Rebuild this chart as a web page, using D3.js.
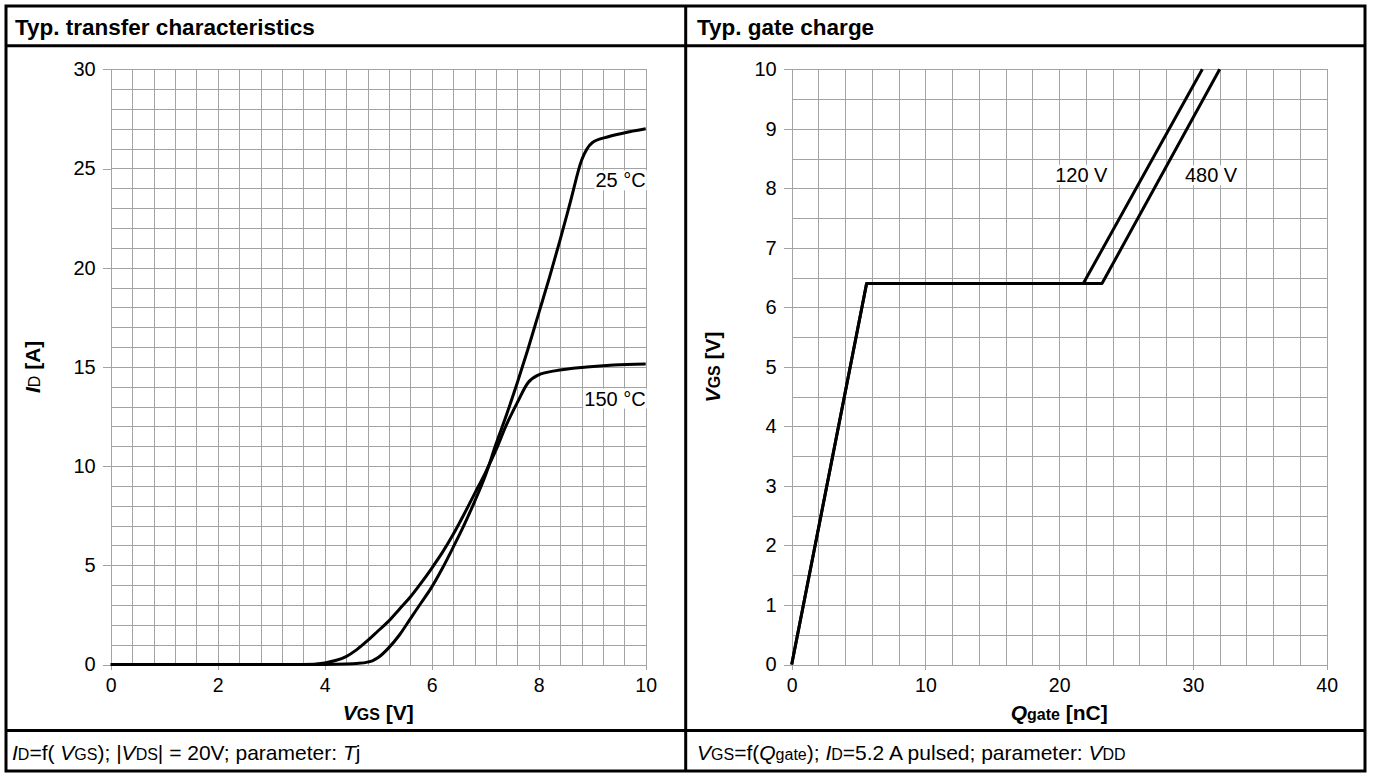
<!DOCTYPE html>
<html>
<head>
<meta charset="utf-8">
<script src="https://cdn.jsdelivr.net/npm/d3@7"></script>
<style>
body { margin: 0; background: #fff; }
svg { display: block; font-family: Arial, "Liberation Sans", sans-serif; }
.grid line { stroke: #a3a3a3; stroke-width: 1; shape-rendering: crispEdges; }
.tick line { stroke: #a3a3a3; shape-rendering: crispEdges; }
.curve { fill: none; stroke: #000; stroke-width: 3; stroke-linejoin: round; }
.frame { stroke: #000; stroke-width: 3; fill: none; }
</style>
</head>
<body>
<script>
// transfer characteristics, VGS [V] -> ID [A]
var tj25 = [[0,0],[4.0,0],[4.4,0.02],[4.6,0.05],[4.8,0.12],[4.9,0.2],[5.0,0.35],[5.2,0.85],[5.4,1.5],[5.6,2.3],[5.8,3.1],
  [6.0,3.9],[6.2,4.85],[6.4,5.9],[6.6,7.0],[6.8,8.2],[7.0,9.5],[7.2,11.1],[7.4,12.6],[7.6,14.2],
  [7.8,15.9],[8.0,17.7],[8.2,19.5],[8.4,21.4],[8.6,23.4],[8.8,25.4],[9.0,26.3],[9.3,26.6],[9.7,26.85],[10,27.0]];
var tj150 = [[0,0],[3.6,0],[4.0,0.08],[4.2,0.2],[4.4,0.4],[4.6,0.75],[4.8,1.2],[5.0,1.7],[5.2,2.2],
  [5.4,2.8],[5.6,3.4],[5.8,4.1],[6.0,4.85],[6.2,5.65],[6.4,6.55],[6.6,7.55],[6.8,8.6],[7.0,9.65],
  [7.2,10.8],[7.4,12.1],[7.6,13.2],[7.8,14.2],[8.0,14.6],[8.3,14.8],[8.9,15.0],[9.4,15.1],[10,15.15]];
// gate charge, Qgate [nC] -> VGS [V]
var vdd120 = [[0,0],[5.6,6.4],[21.8,6.4],[30.7,10]];
var vdd480 = [[0,0],[5.6,6.4],[23.2,6.4],[32.0,10]];

var vgsTicks = [0,2,4,6,8,10];
var idTicks = [0,5,10,15,20,25,30];
var qTicks = [0,10,20,30,40];
var vTicks = [0,1,2,3,4,5,6,7,8,9,10];

var svg = d3.select("body").append("svg")
  .attr("width", 1374).attr("height", 773);

var plotTop = 69.3, plotBottom = 664.5;

var drawPanel = function(o){
  var g = svg.append("g");
  var x = d3.scaleLinear().domain(o.xDomain).range([o.left, o.left + 535]);
  var y = d3.scaleLinear().domain(o.yDomain).range([plotBottom, plotTop]);

  var grid = g.append("g").attr("class", "grid");
  grid.selectAll("line.v").data(d3.range(o.xDomain[0], o.xDomain[1] + 1e-6, o.xStep))
    .enter().append("line").attr("class", "v")
    .attr("x1", function(d){ return Math.round(x(d)) + 0.5; })
    .attr("x2", function(d){ return Math.round(x(d)) + 0.5; })
    .attr("y1", plotTop).attr("y2", plotBottom);
  grid.selectAll("line.h").data(d3.range(o.yDomain[0], o.yDomain[1] + 1e-6, o.yStep))
    .enter().append("line").attr("class", "h")
    .attr("y1", function(d){ return Math.round(y(d)) + 0.5; })
    .attr("y2", function(d){ return Math.round(y(d)) + 0.5; })
    .attr("x1", o.left).attr("x2", o.left + 535);

  var ax = g.append("g").attr("transform", "translate(0," + plotBottom + ")")
    .call(d3.axisBottom(x).tickValues(o.xTicks).tickSize(5).tickPadding(9));
  ax.select(".domain").remove();
  ax.selectAll("text").attr("font-size", 19.5).attr("fill", "#000").attr("font-family", null);

  var ay = g.append("g").attr("transform", "translate(" + o.left + ",0)")
    .call(d3.axisLeft(y).tickValues(o.yTicks).tickSize(8).tickPadding(7));
  ay.select(".domain").remove();
  ay.selectAll("text").attr("font-size", 20).attr("fill", "#000").attr("font-family", null);

  var line = d3.line().x(function(d){ return x(d[0]); }).y(function(d){ return y(d[1]); })
    .curve(o.smooth ? d3.curveMonotoneX : d3.curveLinear);
  o.series.forEach(function(s){
    g.append("path").datum(s.data).attr("class", "curve").attr("d", line);
  });

  // curve labels with white boxes
  o.series.forEach(function(s){
    var t = g.append("text").text(s.name)
      .attr("x", x(s.lx)).attr("y", y(s.ly))
      .attr("text-anchor", s.anchor).attr("font-size", 20);
    var b = t.node().getBBox();
    g.insert("rect", function(){ return t.node(); })
      .attr("x", b.x - 1).attr("y", b.y + 1).attr("width", b.width + 2).attr("height", b.height - 2)
      .attr("fill", "#fff");
  });

  // x title
  var xt = g.append("text").attr("x", o.left + 267.5).attr("y", 720)
    .attr("text-anchor", "middle").attr("font-size", 21).attr("font-weight", "bold");
  xt.append("tspan").attr("font-style", "italic").text(o.xTitle[0]);
  xt.append("tspan").attr("font-size", 16).text(o.xTitle[1]);
  xt.append("tspan").text(o.xTitle[2]);

  // y title
  var yt = g.append("text").attr("transform", "translate(" + o.yTitleX + "," + ((plotTop + plotBottom) / 2) + ") rotate(-90)")
    .attr("text-anchor", "middle").attr("font-size", 21).attr("font-weight", "bold");
  yt.append("tspan").attr("font-style", "italic").text(o.yTitle[0]);
  yt.append("tspan").attr("font-size", 16).attr("font-weight", o.yTitle[3] || "bold").text(o.yTitle[1]);
  yt.append("tspan").text(o.yTitle[2]);

  return g;
};

drawPanel({
  left: 110.7, xDomain: [0, 10], yDomain: [0, 30], xStep: 0.4, yStep: 1,
  xTicks: vgsTicks, yTicks: idTicks, smooth: true,
  series: [
    {name: "25 °C", data: tj25, lx: 10, ly: 24.05, anchor: "end"},
    {name: "150 °C", data: tj150, lx: 10, ly: 13.05, anchor: "end"}
  ],
  xTitle: ["V", "GS", " [V]"], yTitle: ["I", "D", " [A]", "normal"], yTitleX: 40
});

drawPanel({
  left: 791.7, xDomain: [0, 40], yDomain: [0, 10], xStep: 2, yStep: 0.5,
  xTicks: qTicks, yTicks: vTicks, smooth: false,
  series: [
    {name: "120 V", data: vdd120, lx: 19.7, ly: 8.11, anchor: "start"},
    {name: "480 V", data: vdd480, lx: 29.4, ly: 8.1, anchor: "start"}
  ],
  xTitle: ["Q", "gate", " [nC]"], yTitle: ["V", "GS", " [V]"], yTitleX: 720
});

// table frame
svg.append("rect").attr("class", "frame").attr("x", 6).attr("y", 6).attr("width", 1359).attr("height", 765);
svg.append("line").attr("class", "frame").attr("x1", 6).attr("x2", 1365).attr("y1", 45.7).attr("y2", 45.7);
svg.append("line").attr("class", "frame").attr("x1", 6).attr("x2", 1365).attr("y1", 730.5).attr("y2", 730.5);
svg.append("line").attr("class", "frame").attr("x1", 685.7).attr("x2", 685.7).attr("y1", 6).attr("y2", 771);

// headers
svg.append("text").attr("x", 15).attr("y", 35).attr("font-size", 22.5).attr("font-weight", "bold")
  .text("Typ. transfer characteristics");
svg.append("text").attr("x", 697).attr("y", 35).attr("font-size", 22.5).attr("font-weight", "bold")
  .text("Typ. gate charge");

// footers
var addParts = function(xPos, parts){
  var t = svg.append("text").attr("x", xPos).attr("y", 760).attr("font-size", 21);
  parts.forEach(function(p){
    var s = t.append("tspan").text(p[0]);
    if (p[1] == "i") s.attr("font-style", "italic");
    if (p[1] == "s") s.attr("font-size", 16);
  });
};
addParts(12, [["I", "i"], ["D", "s"], ["=f( ", ""], ["V", "i"], ["GS", "s"], ["); |", ""], ["V", "i"], ["DS", "s"],
  ["| = 20V; parameter:  ", ""], ["T", "i"], ["j", ""]]);
addParts(697, [["V", "i"], ["GS", "s"], ["=f(", ""], ["Q", "i"], ["gate", "s"], ["); ", ""], ["I", "i"], ["D", "s"],
  ["=5.2 A pulsed; parameter:  ", ""], ["V", "i"], ["DD", "s"]]);
</script>
</body>
</html>
